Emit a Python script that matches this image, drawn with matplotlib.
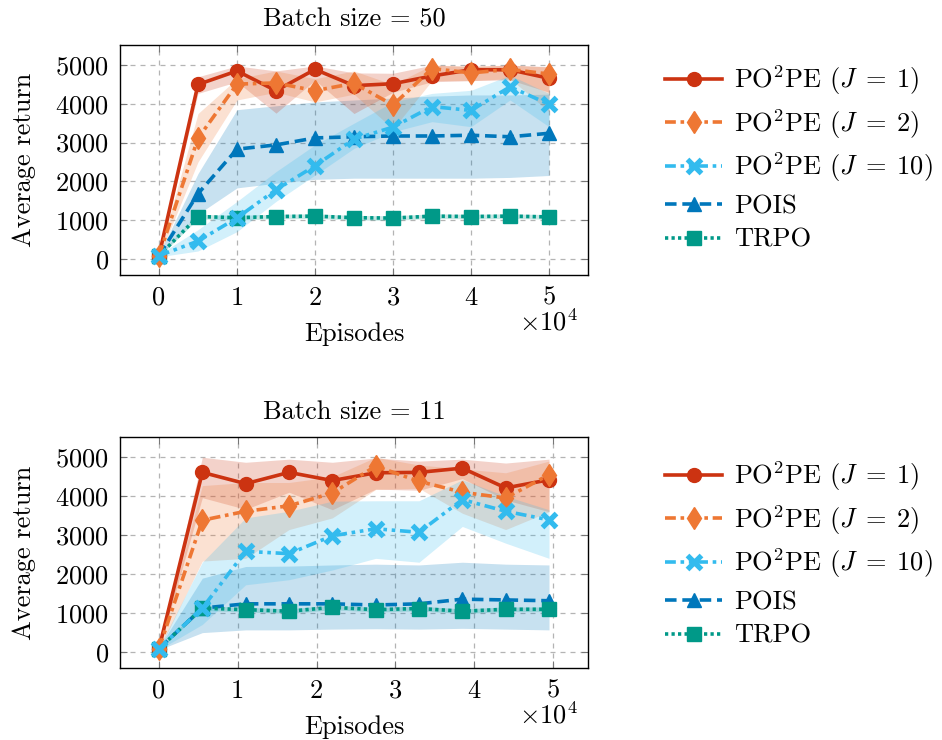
import matplotlib
matplotlib.use("Agg")
import matplotlib.pyplot as plt
import numpy as np
from matplotlib.ticker import FuncFormatter, MultipleLocator

plt.rcParams['font.family'] = 'serif'
plt.rcParams['font.serif'] = ['cmr10', 'DejaVu Serif']
plt.rcParams['mathtext.fontset'] = 'cm'
plt.rcParams['axes.unicode_minus'] = False
plt.rcParams['axes.formatter.use_mathtext'] = True

# ---------------- data ----------------
x50 = [0, 5000, 10000, 15000, 20000, 25000, 30000, 35000, 40000, 45000, 50000]
j1_50 = [80, 4500, 4850, 4340, 4890, 4470, 4520, 4720, 4880, 4880, 4660]
j1_50_lo = [50, 4270, 4570, 3760, 4610, 3750, 4300, 4570, 4600, 4620, 4300]
j1_50_hi = [110, 4700, 4980, 4850, 4980, 4800, 4790, 5000, 4960, 5000, 4960]
j2_50 = [80, 3110, 4510, 4540, 4340, 4530, 3970, 4910, 4800, 4890, 4770]
j2_50_lo = [50, 2500, 4100, 4300, 4050, 4250, 3350, 4600, 4600, 4650, 3800]
j2_50_hi = [110, 3750, 4650, 4850, 4650, 4850, 4500, 5000, 4980, 5000, 4950]
j10_50 = [80, 455, 1055, 1780, 2400, 3090, 3400, 3930, 3830, 4440, 3990]
j10_50_lo = [50, 200, 700, 1480, 2160, 2850, 3280, 3540, 3410, 4100, 3410]
j10_50_hi = [110, 750, 1480, 2250, 2940, 3500, 4050, 4270, 4350, 4740, 4270]
pois_50 = [80, 1680, 2830, 2940, 3120, 3150, 3170, 3170, 3190, 3150, 3240]
pois_50_lo = [50, 1150, 1830, 1950, 2050, 2080, 2080, 2080, 2080, 2100, 2150]
pois_50_hi = [110, 2200, 3850, 3950, 4050, 4100, 4150, 4200, 4230, 4230, 4250]
trpo_50 = [80, 1090, 1060, 1090, 1100, 1060, 1050, 1100, 1090, 1100, 1080]
trpo_50_lo = [50, 1030, 1000, 1030, 1040, 1000, 990, 1040, 1030, 1040, 1020]
trpo_50_hi = [110, 1150, 1120, 1150, 1160, 1120, 1110, 1160, 1150, 1160, 1140]

x11 = [0, 5500, 11000, 16500, 22000, 27500, 33000, 38500, 44000, 49500]
j1_11 = [80, 4610, 4320, 4610, 4400, 4600, 4610, 4720, 4210, 4420]
j1_11_lo = [50, 3960, 3660, 4100, 3650, 4180, 4150, 4450, 3900, 3600]
j1_11_hi = [110, 5000, 4870, 4950, 4870, 4980, 4900, 4950, 4850, 4950]
j2_11 = [80, 3380, 3610, 3750, 4080, 4770, 4380, 4100, 3950, 4550]
j2_11_lo = [50, 2330, 2400, 3140, 3440, 4170, 4200, 3560, 3140, 3600]
j2_11_hi = [110, 4270, 4350, 4350, 4500, 5000, 4800, 4700, 4600, 4900]
j10_11 = [80, 1120, 2580, 2520, 2980, 3160, 3070, 3910, 3610, 3390]
j10_11_lo = [50, 700, 1720, 1850, 2100, 2400, 2300, 3220, 2790, 2400]
j10_11_hi = [110, 2300, 3440, 3610, 3870, 3880, 3880, 4420, 4000, 3650]
pois_11 = [80, 1120, 1230, 1230, 1230, 1200, 1230, 1350, 1330, 1310]
pois_11_lo = [50, 490, 560, 560, 580, 590, 580, 600, 580, 560]
pois_11_hi = [110, 1890, 2190, 2200, 2230, 2250, 2230, 2300, 2250, 2230]
trpo_11 = [80, 1120, 1080, 1040, 1140, 1080, 1110, 1040, 1090, 1090]
trpo_11_lo = [50, 1060, 1020, 980, 1080, 1020, 1050, 980, 1030, 1030]
trpo_11_hi = [110, 1180, 1140, 1100, 1200, 1140, 1170, 1100, 1150, 1150]

labels = [r'PO$^2$PE ($J\;=\;1$)', r'PO$^2$PE ($J\;=\;2$)', r'PO$^2$PE ($J\;=\;10$)', 'POIS', 'TRPO']
colors = ['#CC3311', '#EE7733', '#33BBEE', '#0077BB', '#009988']
markers = ['o', 'd', 'x', '^', 's']
msizes = [10, 11.5, 10.5, 10, 10]
dashes = [None, (3, 1.3, 1, 1.3), (3, 1.3, 1, 1.3, 1, 1.3), (3.2, 1.6), (0.9, 0.9)]
draw_order = [3, 4, 0, 1, 2]

fig = plt.figure(figsize=(9.42, 7.40), dpi=100)
ax_top = fig.add_axes([120/942, 1-275/740, 468/942, 230/740])
ax_bot = fig.add_axes([120/942, 1-668/740, 468/942, 231/740])

LEG_TOP = 0.929
panels = [
    (ax_top, x50, [(j1_50, j1_50_lo, j1_50_hi), (j2_50, j2_50_lo, j2_50_hi),
                   (j10_50, j10_50_lo, j10_50_hi), (pois_50, pois_50_lo, pois_50_hi),
                   (trpo_50, trpo_50_lo, trpo_50_hi)], 'Batch size = 50', LEG_TOP),
    (ax_bot, x11, [(j1_11, j1_11_lo, j1_11_hi), (j2_11, j2_11_lo, j2_11_hi),
                   (j10_11, j10_11_lo, j10_11_hi), (pois_11, pois_11_lo, pois_11_hi),
                   (trpo_11, trpo_11_lo, trpo_11_hi)], 'Batch size = 11', LEG_TOP - 396/740),
]

FS = 19
for ax, xs, series, title, legy in panels:
    xs = np.asarray(xs)
    for i in draw_order:
        m, lo, hi = series[i]
        ax.fill_between(xs, lo, hi, color=colors[i], alpha=0.22, linewidth=0, zorder=1)
    handles = [None]*5
    for k, i in enumerate(draw_order):
        m, lo, hi = series[i]
        kw = dict(color=colors[i], lw=2.6, marker=markers[i], markersize=msizes[i],
                  label=labels[i], zorder=3 + k)
        if markers[i] == 'x':
            kw['markeredgewidth'] = 3.8
        (ln,) = ax.plot(xs, m, **kw)
        if dashes[i] is not None:
            ln.set_dashes(dashes[i])
        handles[i] = ln
    span = xs.max() - xs.min()
    ax.set_xlim(xs.min() - 0.1*span, xs.max() + 0.1*span)
    ax.set_ylim(-420, 5520)
    ax.xaxis.set_major_locator(MultipleLocator(10000))
    ax.yaxis.set_major_locator(MultipleLocator(1000))
    ax.xaxis.set_major_formatter(FuncFormatter(lambda v, p: '%d' % round(v/10000)))
    ax.grid(True, color='#b4b4b4', linestyle=(0, (4, 4)), linewidth=0.9, zorder=0)
    ax.set_axisbelow(True)
    ax.tick_params(direction='in', top=True, right=True, length=5, width=0.8,
                   color='#777777', labelsize=FS, pad=8)
    for s in ax.spines.values():
        s.set_linewidth(1.0)
    ax.set_title(title, fontsize=FS, pad=13)
    ax.set_xlabel('Episodes', fontsize=FS, labelpad=9)
    ax.set_ylabel('Average return', fontsize=FS, labelpad=14)
    ax.text(0.979, -0.205, r'$\times10^4$', transform=ax.transAxes,
            ha='right', va='center', fontsize=FS)
    fig.legend(handles=handles, labels=labels, loc='upper left',
               bbox_to_anchor=(0.695, legy), frameon=False, fontsize=FS,
               handlelength=2.16, handletextpad=0.45, labelspacing=0.38,
               borderaxespad=0.0)

fig.savefig('out.png', dpi=100)
